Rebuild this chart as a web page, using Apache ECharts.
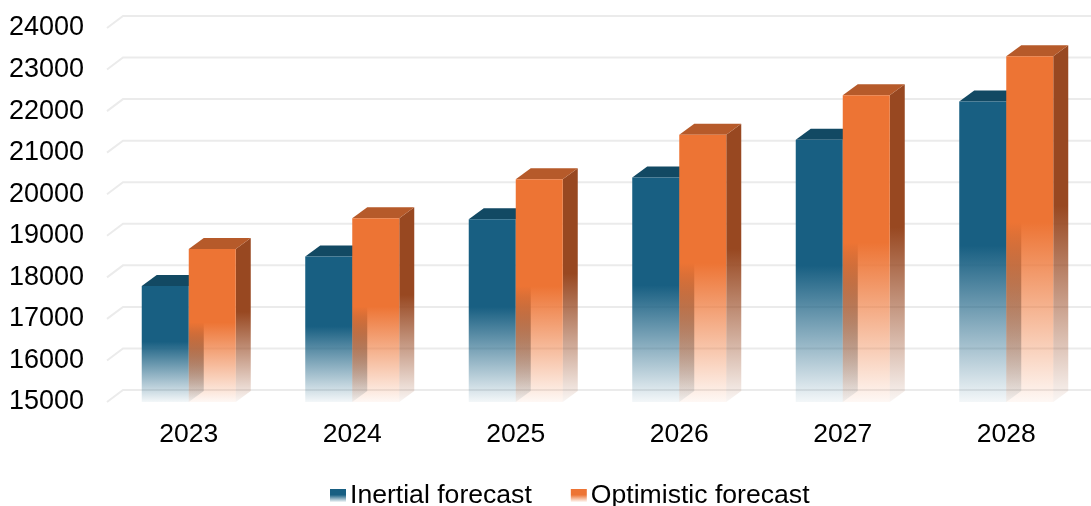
<!DOCTYPE html>
<html>
<head>
<meta charset="utf-8">
<script src="https://cdn.jsdelivr.net/npm/echarts@6/dist/echarts.min.js"></script>
<style>
  html, body { margin: 0; padding: 0; background: #ffffff; }
  #chart { width: 1091px; height: 506px; }
</style>
</head>
<body>
<div id="chart"></div>
<script>
// Forecast values per year
const years = ['2023', '2024', '2025', '2026', '2027', '2028'];
const inertial = [17790, 18500, 19400, 20400, 21310, 22230];
const optimistic = [18680, 19420, 20360, 21430, 22380, 23320];
const yTicks = [15000, 16000, 17000, 18000, 19000, 20000, 21000, 22000, 23000, 24000];

const Y_MIN = 15000, Y_MAX = 24000, Y_STEP = 1000;
const FONT = '"Liberation Sans", Arial, sans-serif';

// Depth of the 3D walls and of the boxes (pixels)
const WALL_DX = 16, WALL_DY = 12;
const BOX_DX = 15, BOX_DY = 11;

function fade(r, g, b, solidTo) {
  return {
    type: 'linear', x: 0, y: 0, x2: 0, y2: 1,
    colorStops: [
      { offset: 0, color: `rgba(${r},${g},${b},1)` },
      { offset: solidTo, color: `rgba(${r},${g},${b},1)` },
      { offset: 1, color: `rgba(${r},${g},${b},0.05)` }
    ]
  };
}

const palettes = [
  { front: [24, 95, 130], top: '#124963', side: [14, 60, 84] },
  { front: [237, 116, 52], top: '#B65A2A', side: [152, 72, 33] }
];

function boxRenderer(slot) {
  const pal = palettes[slot];
  return function (params, api) {
    const cat = api.value(0);
    const val = api.value(1);
    const top = api.coord([cat, val]);
    const base = api.coord([cat, Y_MIN]);
    const band = api.size([1, 0])[0];
    const w = band * 0.2875;
    const x0 = slot === 0 ? top[0] - w : top[0];
    const x1 = x0 + w;
    const yT = top[1], yB = base[1];
    const sideFill = fade(pal.side[0], pal.side[1], pal.side[2], 0.45);
    const frontFill = fade(pal.front[0], pal.front[1], pal.front[2], 0.48);
    return {
      type: 'group',
      children: [
        {
          type: 'polygon',
          shape: { points: [[x1, yT], [x1 + BOX_DX, yT - BOX_DY], [x1 + BOX_DX, yB - BOX_DY], [x1, yB]] },
          style: { fill: sideFill }
        },
        {
          type: 'polygon',
          shape: { points: [[x0, yT], [x0 + BOX_DX, yT - BOX_DY], [x1 + BOX_DX, yT - BOX_DY], [x1, yT]] },
          style: { fill: pal.top }
        },
        {
          type: 'rect',
          shape: { x: x0, y: yT, width: w, height: yB - yT },
          style: { fill: frontFill }
        }
      ]
    };
  };
}

// Side-wall diagonal plus back-wall line for every value tick
function gridRenderer(params, api) {
  const cs = params.coordSys;
  const y = api.coord([0, api.value(0)])[1];
  return {
    type: 'polyline',
    shape: { points: [[cs.x, y], [cs.x + WALL_DX, y - WALL_DY], [cs.x + cs.width + WALL_DX, y - WALL_DY]] },
    style: { stroke: '#EBEBEB', lineWidth: 2, fill: null }
  };
}

const chart = echarts.init(document.getElementById('chart'));
chart.setOption({
  animation: false,
  backgroundColor: '#ffffff',
  textStyle: { fontFamily: FONT },
  grid: { left: 107, right: 3, top: 28, bottom: 104 },
  legend: {
    left: 330, top: 482, padding: 0,
    itemWidth: 16, itemHeight: 13, itemGap: 39,
    icon: 'rect',
    textStyle: { fontFamily: FONT, fontSize: 26.6, color: '#000000', padding: [0, 0, 0, -1] },
    data: [
      { name: 'Inertial forecast', itemStyle: { color: fade(24, 95, 130, 0.45) } },
      { name: 'Optimistic forecast', itemStyle: { color: fade(237, 116, 52, 0.45) } }
    ]
  },
  xAxis: {
    type: 'category',
    data: years,
    axisLine: { show: false },
    axisTick: { show: false },
    axisLabel: { fontFamily: FONT, fontSize: 26.5, color: '#000000', margin: 19 }
  },
  yAxis: {
    type: 'value',
    min: Y_MIN, max: Y_MAX, interval: Y_STEP,
    axisLine: { show: false },
    axisTick: { show: false },
    splitLine: { show: false },
    axisLabel: {
      fontFamily: FONT, fontSize: 27, color: '#000000', margin: 23,
      formatter: v => String(v)
    }
  },
  series: [
    {
      type: 'custom',
      name: 'walls',
      renderItem: gridRenderer,
      data: yTicks.map(v => [v]),
      encode: { y: 0 },
      silent: true,
      z: 1
    },
    {
      type: 'custom',
      name: 'Inertial forecast',
      renderItem: boxRenderer(0),
      data: inertial.map((v, i) => [i, v]),
      encode: { x: 0, y: 1 },
      itemStyle: { color: '#185F82' },
      z: 2
    },
    {
      type: 'custom',
      name: 'Optimistic forecast',
      renderItem: boxRenderer(1),
      data: optimistic.map((v, i) => [i, v]),
      encode: { x: 0, y: 1 },
      itemStyle: { color: '#ED7434' },
      z: 3
    }
  ]
});
</script>
</body>
</html>
